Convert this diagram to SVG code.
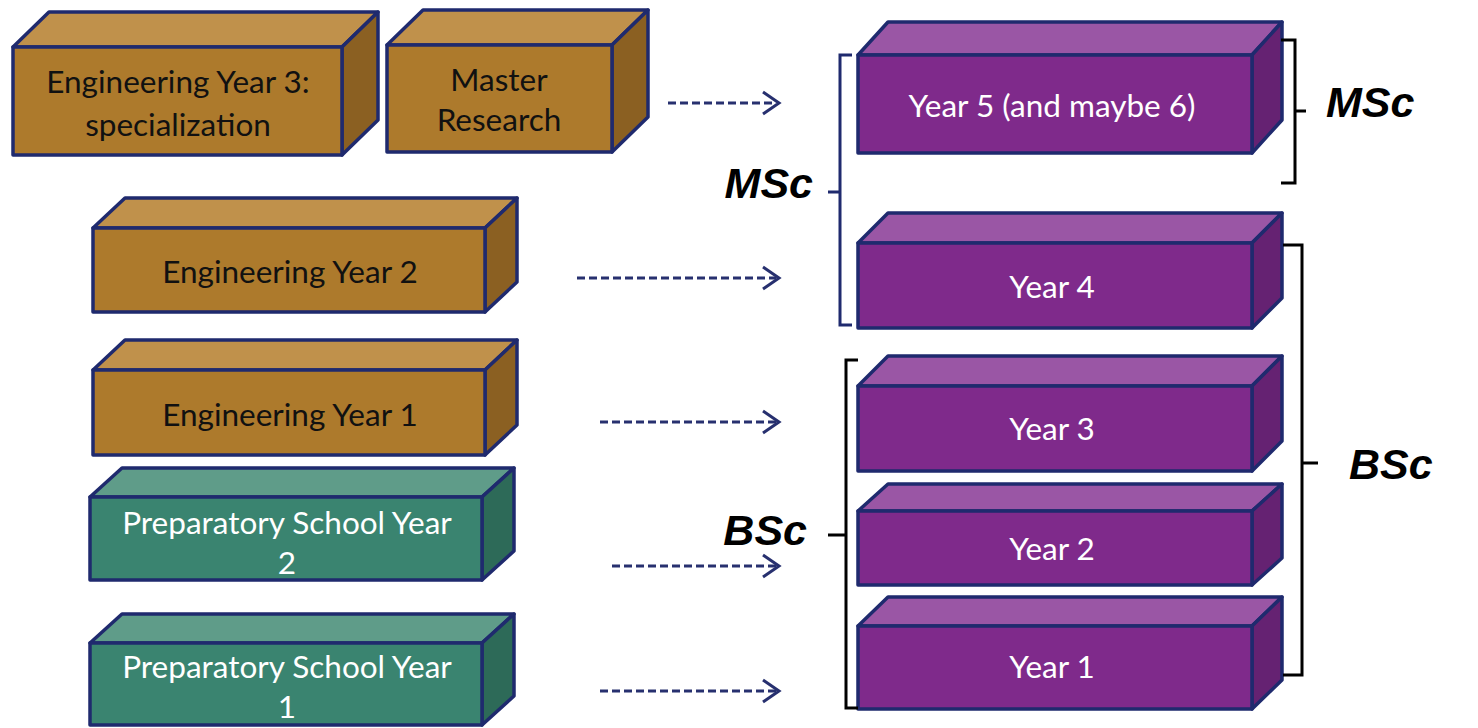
<svg xmlns="http://www.w3.org/2000/svg" width="1478" height="728" viewBox="0 0 1478 728">
<style>
.stk{stroke:#1f2a6e;stroke-width:3.5;stroke-linejoin:round}
.bf{fill:#ad7a2c}.bt{fill:#c0914b}.br{fill:#8b6022}
.gf{fill:#3a8470}.gt{fill:#5f9c89}.gr{fill:#2d6a58}
.pf{fill:#7f2a8b}.pt{fill:#9a56a5}.pr{fill:#652272}
.lbl{font-family:Lato,"Open Sans",sans-serif;font-size:31.5px;text-anchor:middle}
.dk{fill:#111}.wt{fill:#fff}
.deg{font-family:"Liberation Sans",Arial,sans-serif;font-size:43px;font-weight:bold;font-style:italic;fill:#000}
.arr{stroke:#27306f;stroke-width:3;fill:none;stroke-dasharray:8 4}
.head{stroke:#27306f;stroke-width:3;fill:none}
.brkL{stroke:#1f2a6e;stroke-width:3;fill:none}
.brkR{stroke:#000;stroke-width:3;fill:none}
</style>

<g id="eng3">
<polygon class="bt stk" points="13,47 49,12 378,12 342,47"/>
<polygon class="br stk" points="342,47 378,12 378,120 342,155"/>
<rect class="bf stk" x="13" y="47" width="329" height="108"/>
<text class="lbl dk" x="178" y="93">Engineering Year 3:</text>
<text class="lbl dk" x="178" y="136">specialization</text>
</g>

<g id="master">
<polygon class="bt stk" points="387,45 423,10 648,10 612,45"/>
<polygon class="br stk" points="612,45 648,10 648,117 612,152"/>
<rect class="bf stk" x="387" y="45" width="225" height="107"/>
<text class="lbl dk" x="499" y="91">Master</text>
<text class="lbl dk" x="499" y="131">Research</text>
</g>

<g id="eng2">
<polygon class="bt stk" points="93,228 125,198 517,198 485,228"/>
<polygon class="br stk" points="485,228 517,198 517,282 485,312"/>
<rect class="bf stk" x="93" y="228" width="392" height="84"/>
<text class="lbl dk" x="290" y="283">Engineering Year 2</text>
</g>

<g id="eng1">
<polygon class="bt stk" points="93,370 125,340 517,340 485,370"/>
<polygon class="br stk" points="485,370 517,340 517,425 485,455"/>
<rect class="bf stk" x="93" y="370" width="392" height="85"/>
<text class="lbl dk" x="290" y="426">Engineering Year 1</text>
</g>

<g id="prep2">
<polygon class="gt stk" points="90,497 122,468 514,468 482,497"/>
<polygon class="gr stk" points="482,497 514,468 514,551 482,580"/>
<rect class="gf stk" x="90" y="497" width="392" height="83"/>
<text class="lbl wt" x="287" y="534">Preparatory School Year</text>
<text class="lbl wt" x="287" y="574">2</text>
</g>

<g id="prep1">
<polygon class="gt stk" points="90,643 122,614 514,614 482,643"/>
<polygon class="gr stk" points="482,643 514,614 514,696 482,725"/>
<rect class="gf stk" x="90" y="643" width="392" height="82"/>
<text class="lbl wt" x="287" y="678">Preparatory School Year</text>
<text class="lbl wt" x="287" y="718">1</text>
</g>

<g id="year5">
<polygon class="pt stk" points="858,55 888,22 1282,22 1252,55"/>
<polygon class="pr stk" points="1252,55 1282,22 1282,120 1252,153"/>
<rect class="pf stk" x="858" y="55" width="394" height="98"/>
<text class="lbl wt" x="1052" y="117">Year 5 (and maybe 6)</text>
</g>

<g id="year4">
<polygon class="pt stk" points="858,243 888,213 1282,213 1252,243"/>
<polygon class="pr stk" points="1252,243 1282,213 1282,298 1252,328"/>
<rect class="pf stk" x="858" y="243" width="394" height="85"/>
<text class="lbl wt" x="1052" y="298">Year 4</text>
</g>

<g id="year3">
<polygon class="pt stk" points="858,386 888,356 1282,356 1252,386"/>
<polygon class="pr stk" points="1252,386 1282,356 1282,441 1252,471"/>
<rect class="pf stk" x="858" y="386" width="394" height="85"/>
<text class="lbl wt" x="1052" y="440">Year 3</text>
</g>

<g id="year2">
<polygon class="pt stk" points="858,511 888,484 1282,484 1252,511"/>
<polygon class="pr stk" points="1252,511 1282,484 1282,558 1252,585"/>
<rect class="pf stk" x="858" y="511" width="394" height="74"/>
<text class="lbl wt" x="1052" y="560">Year 2</text>
</g>

<g id="year1">
<polygon class="pt stk" points="858,626 888,597 1282,597 1252,626"/>
<polygon class="pr stk" points="1252,626 1282,597 1282,680 1252,709"/>
<rect class="pf stk" x="858" y="626" width="394" height="83"/>
<text class="lbl wt" x="1052" y="678">Year 1</text>
</g>

<g id="connectors">
<line class="arr" x1="668" y1="103" x2="776" y2="103"/>
<polyline class="head" points="763,92 779,103 763,114"/>
<line class="arr" x1="577" y1="278" x2="776" y2="278"/>
<polyline class="head" points="763,267 779,278 763,289"/>
<line class="arr" x1="600" y1="422" x2="776" y2="422"/>
<polyline class="head" points="763,411 779,422 763,433"/>
<line class="arr" x1="612" y1="566" x2="776" y2="566"/>
<polyline class="head" points="763,555 779,566 763,577"/>
<line class="arr" x1="600" y1="691" x2="776" y2="691"/>
<polyline class="head" points="763,680 779,691 763,702"/>
</g>

<g id="brackets">
<path class="brkL" d="M852,55 H840 V325 H852 M840,192 H828"/>
<path class="brkL" d="M858,360 H846 V708 H858 M846,535 H828" style="stroke:#000"/>
<path class="brkR" d="M1281,40 H1295 V183 H1281 M1295,111 H1306"/>
<path class="brkR" d="M1283,245 H1302 V675 H1283 M1302,463 H1318"/>
</g>

<g id="labels">
<text class="deg" x="813" y="198" text-anchor="end">MSc</text>
<text class="deg" x="807" y="545" text-anchor="end">BSc</text>
<text class="deg" x="1326" y="117">MSc</text>
<text class="deg" x="1349" y="479">BSc</text>
</g>
</svg>
